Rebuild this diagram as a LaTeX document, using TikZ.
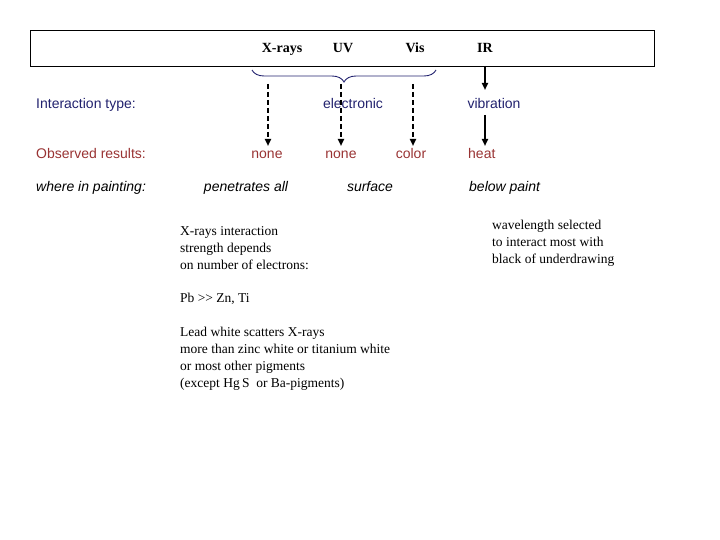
\documentclass[tikz,border=0pt]{standalone}
\usepackage{fontspec}
\setmainfont{Liberation Serif}
\setsansfont{Liberation Sans}
\usetikzlibrary{decorations.pathreplacing,arrows.meta}
\definecolor{navy}{HTML}{22226E}
\definecolor{dred}{HTML}{993333}
\begin{document}
\begin{tikzpicture}[x=1pt,y=-1pt,
  sans/.style={font=\sffamily\fontsize{14}{16}\selectfont, inner sep=0pt, anchor=base},
  isans/.style={font=\sffamily\itshape\fontsize{14}{16}\selectfont, inner sep=0pt, anchor=base},
  ser/.style={font=\rmfamily\fontsize{13.5}{17}\selectfont, inner sep=0pt, align=left},
  hdr/.style={font=\rmfamily\bfseries\fontsize{14}{16}\selectfont, inner sep=0pt, anchor=base},
  darr/.style={line width=2pt, dash pattern=on 5pt off 3pt, -{Triangle[length=7pt,width=6pt]}},
  sarr/.style={line width=2pt, -{Triangle[length=7pt,width=6pt]}}]
\useasboundingbox (0,0) rectangle (720,540);
\draw[line width=0.8pt] (30,30) rectangle (654,66);
\node[hdr] (xr) at (282,53) {X-rays};
\node[hdr] (uv) at (343,53) {UV};
\node[hdr] (vis) at (415,53) {Vis};
\node[hdr] (ir) at (485,53) {IR};
\coordinate (irb) at (485,66);
\coordinate (irm) at (485,90);
\coordinate (irc) at (485,115);
\coordinate (irh) at (485,146);
\draw[navy, line width=0.9pt, decorate, decoration={brace, amplitude=12pt, aspect=0.5}] (436,70) -- (252,70);
\coordinate (d1) at (268,84);
\coordinate (d2) at (341,84);
\coordinate (d3) at (413,84);
\coordinate (e1) at (268,146);
\coordinate (e2) at (341,146);
\coordinate (e3) at (413,146);
\node[sans, navy, anchor=base west] (it) at (36,109) {Interaction type:};
\node[sans, navy] (el) at (353,109) {electronic};
\node[sans, navy] (vib) at (494,109) {vibration};
\node[sans, dred, anchor=base west] (obs) at (36,159) {Observed results:};
\node[sans, dred] (n1) at (267,159) {none};
\node[sans, dred] (n2) at (341,159) {none};
\node[sans, dred] (col) at (411,159) {color};
\node[sans, dred, anchor=base west] (heat) at (468,159) {heat};
\node[isans, anchor=base west] (wh) at (36,192) {where in painting:};
\node[isans] (pen) at (246,192) {penetrates all};
\node[isans] (sur) at (370,192) {surface};
\node[isans, anchor=base west] (bel) at (469,192) {below paint};
\draw[darr] (d1) -- (e1);
\draw[darr] (d2) -- (e2);
\draw[darr] (d3) -- (e3);
\draw[sarr] (irb) -- (irm);
\draw[sarr] (irc) -- (irh);
\node[ser, anchor=north west] (b1) at (180,226) {X-rays interaction\\strength depends\\on number of electrons:};
\node[ser, anchor=north west] (b2) at (180,293) {Pb {>}{>} Zn, Ti};
\node[ser, anchor=north west] (b3) at (180,327) {Lead white scatters X-rays\\more than zinc white or titanium white\\or most other pigments\\(except Hg\,S\enspace or Ba-pigments)};
\node[ser, anchor=north west] (b4) at (492,220) {wavelength selected\\to interact most with\\black of underdrawing};
\end{tikzpicture}
\end{document}
